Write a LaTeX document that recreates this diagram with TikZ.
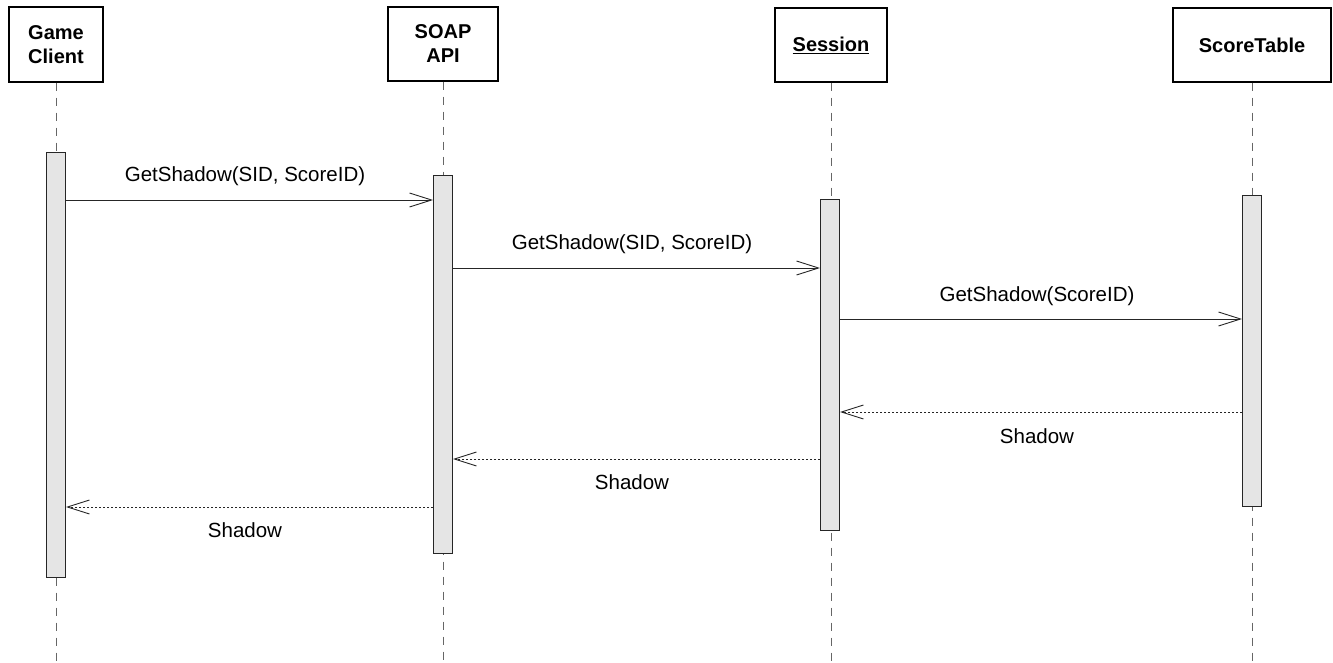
\documentclass[tikz,border=0pt]{standalone}
\usepackage{fontspec}
\setmainfont{Liberation Sans}
\usetikzlibrary{arrows.meta}
\begin{document}
\begin{tikzpicture}[x=1pt,y=-1pt,
  head/.style={draw=black,line width=1.3pt,fill=white,align=center,font=\fontsize{20}{24}\selectfont\bfseries,inner sep=0pt},
  life/.style={draw=black!60,line width=1pt,dash pattern=on 8pt off 7pt},
  actbar/.style={draw=black!85,line width=1pt,fill=black!10,minimum width=19pt,inner sep=0pt},
  msg/.style={draw=black!85,line width=0.9pt,-{Straight Barb[length=22pt,width=14pt,line width=0.9pt]}},
  ret/.style={msg,dash pattern=on 2.5pt off 1.5pt},
  lbl/.style={font=\fontsize{20.5}{24}\selectfont,inner sep=0pt}]
\useasboundingbox (0,0) rectangle (1333,663);
% headers
\node[head,minimum width=94pt,minimum height=75pt] (gc) at (56,44.5) {Game\\Client};
\node[head,minimum width=110pt,minimum height=74pt] (soap) at (443,44) {SOAP\\API};
\node[head,minimum width=112pt,minimum height=74pt] (sess) at (831,45) {\underline{Session}};
\node[head,minimum width=158pt,minimum height=74pt] (st) at (1252,45) {ScoreTable};
% lifeline ends
\coordinate (gcend) at (56,663);
\coordinate (soapend) at (443,663);
\coordinate (sessend) at (831,663);
\coordinate (stend) at (1252,663);
\draw[life] (gc.south) -- (gcend);
\draw[life] (soap.south) -- (soapend);
\draw[life] (sess.south) -- (sessend);
\draw[life] (st.south) -- (stend);
% activation bars
\node[actbar,minimum height=424pt] (gcbar) at (56,365) {};
\node[actbar,minimum height=377pt] (soapbar) at (443,364.5) {};
\node[actbar,minimum height=330pt] (sessbar) at (830,365) {};
\node[actbar,minimum height=310pt] (stbar) at (1252,351) {};
% messages
\draw[msg] (gcbar.east |- 0,200) -- (soapbar.west |- 0,200);
\node[lbl] (l1) at (245,176) {GetShadow(SID, ScoreID)};
\draw[msg] (soapbar.east |- 0,268) -- (sessbar.west |- 0,268);
\node[lbl] (l2) at (632,244) {GetShadow(SID, ScoreID)};
\draw[msg] (sessbar.east |- 0,319) -- (stbar.west |- 0,319);
\node[lbl] (l3) at (1037,296) {GetShadow(ScoreID)};
\draw[ret] (stbar.west |- 0,412) -- (sessbar.east |- 0,412);
\node[lbl] (l4) at (1037,436) {Shadow};
\draw[ret] (sessbar.west |- 0,459) -- (soapbar.east |- 0,459);
\node[lbl] (l5) at (632,482) {Shadow};
\draw[ret] (soapbar.west |- 0,507) -- (gcbar.east |- 0,507);
\node[lbl] (l6) at (245,530) {Shadow};
\end{tikzpicture}
\end{document}
